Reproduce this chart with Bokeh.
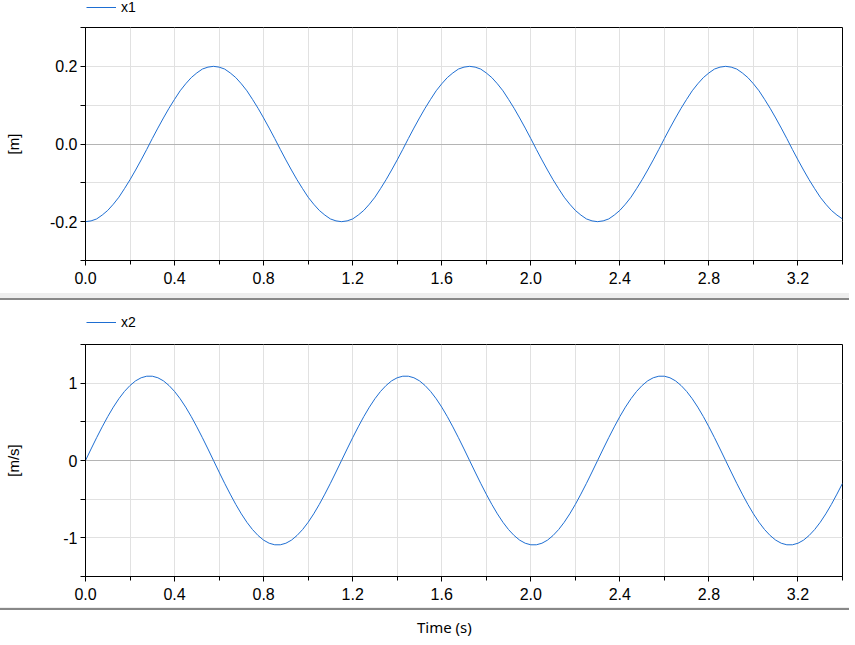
from bokeh.plotting import figure
from bokeh.models import (Range1d, FixedTicker, PrintfTickFormatter, Legend,
                          LegendItem, Grid, Div, ColumnDataSource)
from bokeh.layouts import column
from bokeh.embed import file_html
from bokeh.resources import INLINE

# ---- data ----
t = [0.000, 0.025, 0.050, 0.075, 0.100, 0.125, 0.150, 0.175, 0.200, 0.225,
     0.250, 0.275, 0.300, 0.325, 0.350, 0.375, 0.400, 0.425, 0.450, 0.475,
     0.500, 0.525, 0.550, 0.575, 0.600, 0.625, 0.650, 0.675, 0.700, 0.725,
     0.750, 0.775, 0.800, 0.825, 0.850, 0.875, 0.900, 0.925, 0.950, 0.975,
     1.000, 1.025, 1.050, 1.075, 1.100, 1.125, 1.150, 1.175, 1.200, 1.225,
     1.250, 1.275, 1.300, 1.325, 1.350, 1.375, 1.400, 1.425, 1.450, 1.475,
     1.500, 1.525, 1.550, 1.575, 1.600, 1.625, 1.650, 1.675, 1.700, 1.725,
     1.750, 1.775, 1.800, 1.825, 1.850, 1.875, 1.900, 1.925, 1.950, 1.975,
     2.000, 2.025, 2.050, 2.075, 2.100, 2.125, 2.150, 2.175, 2.200, 2.225,
     2.250, 2.275, 2.300, 2.325, 2.350, 2.375, 2.400, 2.425, 2.450, 2.475,
     2.500, 2.525, 2.550, 2.575, 2.600, 2.625, 2.650, 2.675, 2.700, 2.725,
     2.750, 2.775, 2.800, 2.825, 2.850, 2.875, 2.900, 2.925, 2.950, 2.975,
     3.000, 3.025, 3.050, 3.075, 3.100, 3.125, 3.150, 3.175, 3.200, 3.225,
     3.250, 3.275, 3.300, 3.325, 3.350, 3.375, 3.400]

x1 = [-0.200, -0.198, -0.193, -0.183, -0.171, -0.155, -0.137, -0.115, -0.092, -0.067,
      -0.041, -0.014, 0.014, 0.041, 0.067, 0.092, 0.115, 0.137, 0.155, 0.171,
      0.183, 0.193, 0.198, 0.200, 0.198, 0.193, 0.183, 0.171, 0.155, 0.137,
      0.115, 0.092, 0.067, 0.041, 0.014, -0.014, -0.041, -0.067, -0.092, -0.115,
      -0.137, -0.155, -0.171, -0.183, -0.193, -0.198,
      -0.200, -0.198, -0.193, -0.183, -0.171, -0.155, -0.137, -0.115, -0.092, -0.067,
      -0.041, -0.014, 0.014, 0.041, 0.067, 0.092, 0.115, 0.137, 0.155, 0.171,
      0.183, 0.193, 0.198, 0.200, 0.198, 0.193, 0.183, 0.171, 0.155, 0.137,
      0.115, 0.092, 0.067, 0.041, 0.014, -0.014, -0.041, -0.067, -0.092, -0.115,
      -0.137, -0.155, -0.171, -0.183, -0.193, -0.198,
      -0.200, -0.198, -0.193, -0.183, -0.171, -0.155, -0.137, -0.115, -0.092, -0.067,
      -0.041, -0.014, 0.014, 0.041, 0.067, 0.092, 0.115, 0.137, 0.155, 0.171,
      0.183, 0.193, 0.198, 0.200, 0.198, 0.193, 0.183, 0.171, 0.155, 0.137,
      0.115, 0.092, 0.067, 0.041, 0.014, -0.014, -0.041, -0.067, -0.092, -0.115,
      -0.137, -0.155, -0.171, -0.183, -0.193]

x2 = [0.000, 0.149, 0.295, 0.435, 0.568, 0.690, 0.799, 0.893, 0.970, 1.030,
      1.070, 1.090, 1.090, 1.070, 1.030, 0.970, 0.893, 0.799, 0.690, 0.568,
      0.435, 0.295, 0.149, 0.000, -0.149, -0.295, -0.435, -0.568, -0.690, -0.799,
      -0.893, -0.970, -1.030, -1.070, -1.090, -1.090, -1.070, -1.030, -0.970, -0.893,
      -0.799, -0.690, -0.568, -0.435, -0.295, -0.149,
      0.000, 0.149, 0.295, 0.435, 0.568, 0.690, 0.799, 0.893, 0.970, 1.030,
      1.070, 1.090, 1.090, 1.070, 1.030, 0.970, 0.893, 0.799, 0.690, 0.568,
      0.435, 0.295, 0.149, 0.000, -0.149, -0.295, -0.435, -0.568, -0.690, -0.799,
      -0.893, -0.970, -1.030, -1.070, -1.090, -1.090, -1.070, -1.030, -0.970, -0.893,
      -0.799, -0.690, -0.568, -0.435, -0.295, -0.149,
      0.000, 0.149, 0.295, 0.435, 0.568, 0.690, 0.799, 0.893, 0.970, 1.030,
      1.070, 1.090, 1.090, 1.070, 1.030, 0.970, 0.893, 0.799, 0.690, 0.568,
      0.435, 0.295, 0.149, 0.000, -0.149, -0.295, -0.435, -0.568, -0.690, -0.799,
      -0.893, -0.970, -1.030, -1.070, -1.090, -1.090, -1.070, -1.030, -0.970, -0.893,
      -0.799, -0.690, -0.568, -0.435, -0.295]

x_ticks = [0.0, 0.4, 0.8, 1.2, 1.6, 2.0, 2.4, 2.8, 3.2]
x_minor = [0.2, 0.6, 1.0, 1.4, 1.8, 2.2, 2.6, 3.0, 3.4]
x_lim = [0.0, 3.4]

y1_ticks = [-0.2, 0.0, 0.2]
y1_minor = [-0.3, -0.1, 0.1, 0.3]
y1_lim = [-0.3, 0.3]

y2_ticks = [-1, 0, 1]
y2_minor = [-1.5, -0.5, 0.5, 1.5]
y2_lim = [-1.5, 1.5]

series_names = ["x1", "x2"]
units = ["[m]", "[m/s]"]
x_title = "Time (s)"

LINE = "#1e6ed2"
GRID = "#e1e1e1"
ZERO = "#b4b4b4"
TICKFONT = "Liberation Sans"
W = 849
LEG_H = 16


def legend_strip(name, y, height, center_y):
    """A thin figure (frame aligned with the panels) carrying the legend entry.
    Its line uses the series itself, kept outside the strip's visible range."""
    src = ColumnDataSource(dict(t=t, y=y))
    s = figure(width=W, height=height, output_backend="svg",
               toolbar_location=None, x_axis_type=None, y_axis_type=None,
               x_range=Range1d(*x_lim), y_range=Range1d(5, 6),
               min_border_left=85, min_border_right=7,
               min_border_top=0, min_border_bottom=0,
               background_fill_color="white", border_fill_color="white")
    s.outline_line_color = None
    s.grid.visible = False
    r = s.line("t", "y", source=src, line_color=LINE, line_width=1)
    leg = Legend(items=[LegendItem(label=name, renderers=[r])],
                 location=(1, height - center_y - LEG_H / 2),
                 orientation="horizontal", margin=0, padding=0, spacing=0,
                 glyph_width=30, glyph_height=LEG_H, label_height=LEG_H,
                 label_standoff=5, label_text_font=TICKFONT,
                 label_text_font_size="14px", label_text_color="black",
                 border_line_alpha=0, background_fill_alpha=0)
    s.add_layout(leg, "center")
    return s


def panel(y, unit, yticks, yminor, ylim, yfmt, height, bottom, label_standoff):
    src = ColumnDataSource(dict(t=t, y=y))
    p = figure(width=W, height=height, output_backend="svg",
               toolbar_location=None, x_range=Range1d(*x_lim),
               y_range=Range1d(*ylim), min_border_left=85, min_border_right=7,
               min_border_top=2, min_border_bottom=bottom,
               background_fill_color="white", border_fill_color="white")
    p.line("t", "y", source=src, line_color=LINE, line_width=1)

    p.outline_line_color = "black"
    p.outline_line_width = 1
    p.outline_line_alpha = 1

    # x axis
    p.xaxis.ticker = FixedTicker(ticks=x_ticks, minor_ticks=x_minor)
    p.xaxis.formatter = PrintfTickFormatter(format="%.1f")
    p.xaxis.axis_line_color = "black"
    p.xaxis.major_tick_line_color = "black"
    p.xaxis.minor_tick_line_color = "black"
    p.xaxis.major_tick_out = 5
    p.xaxis.major_tick_in = 0
    p.xaxis.minor_tick_out = 4
    p.xaxis.minor_tick_in = 0
    p.xaxis.major_label_standoff = 6
    p.xaxis.major_label_text_font = TICKFONT
    p.xaxis.major_label_text_font_size = "16px"
    p.xaxis.major_label_text_color = "black"

    # y axis
    p.yaxis.ticker = FixedTicker(ticks=yticks, minor_ticks=yminor)
    p.yaxis.formatter = PrintfTickFormatter(format=yfmt)
    p.yaxis.axis_line_color = "black"
    p.yaxis.major_tick_line_color = "black"
    p.yaxis.minor_tick_line_color = "black"
    p.yaxis.major_tick_out = 5
    p.yaxis.major_tick_in = 0
    p.yaxis.minor_tick_out = 5
    p.yaxis.minor_tick_in = 0
    p.yaxis.major_label_standoff = 3
    p.yaxis.major_label_text_font = TICKFONT
    p.yaxis.major_label_text_font_size = "16px"
    p.yaxis.major_label_text_color = "black"
    p.yaxis.axis_label = unit
    p.yaxis.axis_label_text_font = TICKFONT
    p.yaxis.axis_label_text_font_size = "15px"
    p.yaxis.axis_label_text_font_style = "normal"
    p.yaxis.axis_label_text_color = "black"
    p.yaxis.axis_label_standoff = label_standoff

    # grids
    p.xgrid.grid_line_color = GRID
    p.xgrid.minor_grid_line_color = GRID
    p.ygrid.grid_line_color = GRID
    p.ygrid.minor_grid_line_color = GRID
    p.add_layout(Grid(dimension=1, ticker=FixedTicker(ticks=[0]),
                      grid_line_color=ZERO, grid_line_width=1))
    return p


leg1 = legend_strip(series_names[0], x1, 25, 7)
p1 = panel(x1, units[0], y1_ticks, y1_minor, y1_lim, "%.1f", 268, 33, 25)
leg2 = legend_strip(series_names[1], x2, 42, 22)
p2 = panel(x2, units[1], y2_ticks, y2_minor, y2_lim, "%.0f", 265, 31, 38)

SEP1 = {"background": "linear-gradient(#eeeeee 0px, #eeeeee 5px, #888888 5px, #888888 7px)"}
SEP2 = {"background": "linear-gradient(#eeeeee 0px, #eeeeee 1px, #888888 1px, #888888 3px)"}
sep1 = Div(text="", width=W, height=7, margin=0, styles=SEP1)
sep2 = Div(text="", width=W, height=3, margin=0, styles=SEP2)
tdiv = Div(text=x_title, width=W, height=33, margin=0,
           styles={"font-family": "Noto Sans", "font-size": "15px",
                   "color": "black", "padding-left": "417px",
                   "padding-top": "7px", "box-sizing": "border-box"})

layout = column(leg1, p1, sep1, leg2, p2, sep2, tdiv, spacing=0)
open("out.html", "w").write(file_html(layout, INLINE))
